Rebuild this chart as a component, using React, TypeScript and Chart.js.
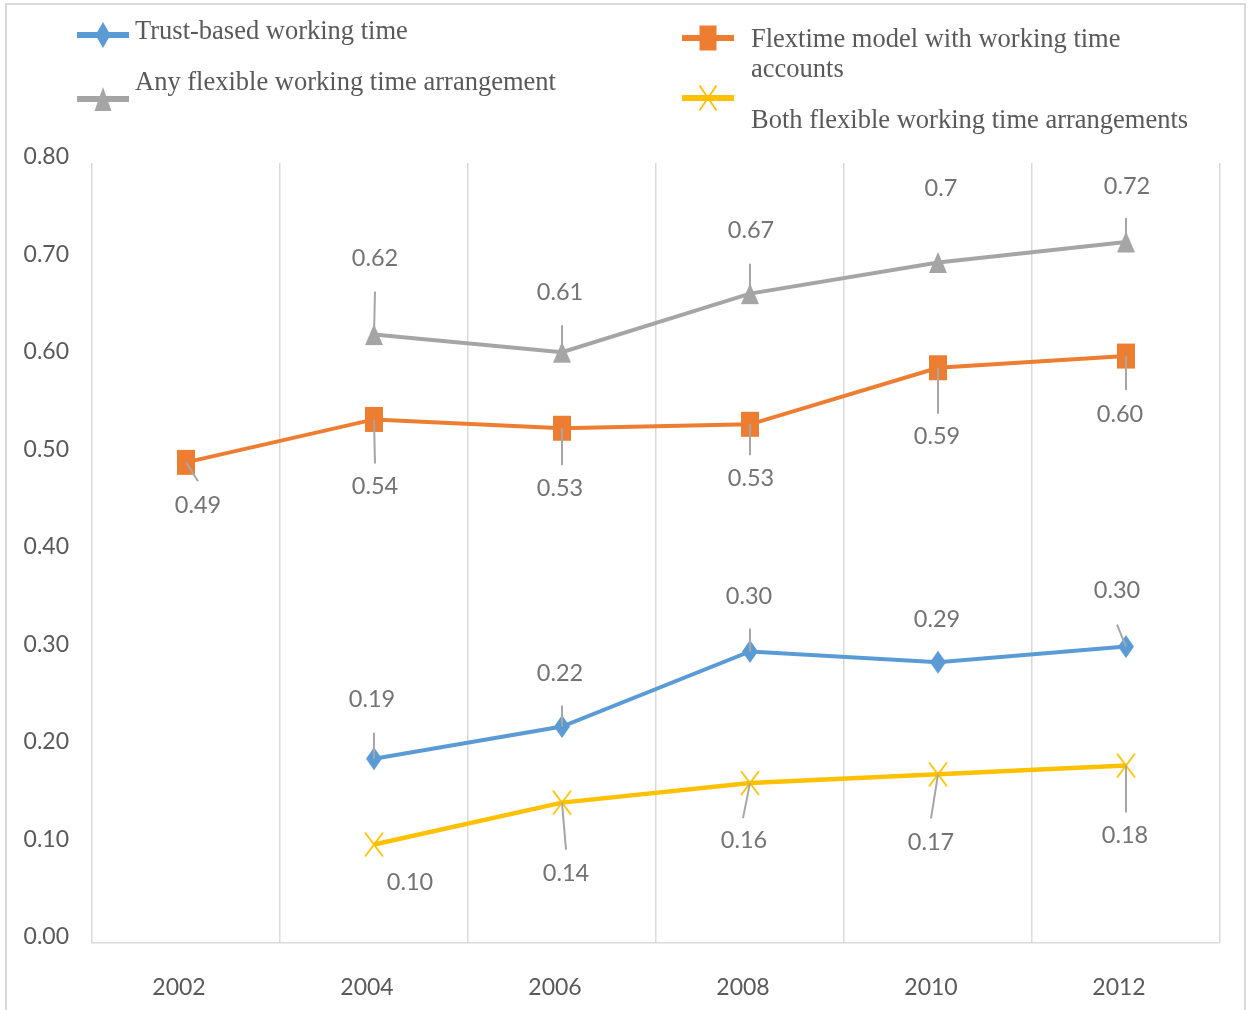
import React, { useEffect, useRef } from "react";
import { Chart, registerables } from "chart.js";

Chart.register(...registerables);

// ---- data ----
const years = ["2002", "2004", "2006", "2008", "2010", "2012"];
const trustBased = [null, 0.189, 0.222, 0.299, 0.288, 0.304];
const flextime = [0.493, 0.537, 0.528, 0.532, 0.59, 0.602];
const anyFlexible = [null, 0.624, 0.606, 0.666, 0.698, 0.719];
const bothFlexible = [null, 0.101, 0.144, 0.164, 0.173, 0.182];

const trustLabels = ["", "0.19", "0.22", "0.30", "0.29", "0.30"];
const flextimeLabels = ["0.49", "0.54", "0.53", "0.53", "0.59", "0.60"];
const anyLabels = ["", "0.62", "0.61", "0.67", "0.7", "0.72"];
const bothLabels = ["", "0.10", "0.14", "0.16", "0.17", "0.18"];

const yTickLabels = ["0.00", "0.10", "0.20", "0.30", "0.40", "0.50", "0.60", "0.70", "0.80"];

const seriesNames = [
  "Trust-based working time",
  "Flextime model with working time accounts",
  "Any flexible working time arrangement",
  "Both flexible working time arrangements",
];

// ---- label placement (style): [labelDx, labelDy, leaderDx, leaderDy] or [dx, dy] (no leader)
const trustPlace = [null, [-2, -59, 0, -26], [-2, -53, 0, -21], [-1, -55, 0, -23], [-1, -43], [-9, -56, -9, -22]];
const flexPlace = [[12, 43, 12, 19], [1, 67, 1, 44], [-2, 60, 0, 37], [1, 54, 0, 31], [-1, 69, 0, 46], [-6, 58, 0, 34]];
const anyPlace = [null, [1, -76, 1, -43], [-2, -60, 0, -27], [1, -63, 0, -30], [3, -74], [1, -56, 0, -24]];
const bothPlace = [null, [36, 38], [4, 71, 4, 47], [-6, 57, -7, 35], [-7, 68, -7, 44], [-1, 70, 0, 47]];

const BLUE = "#5B9BD5";
const ORANGE = "#ED7D31";
const GRAY = "#A5A5A5";
const YELLOW = "#FFC000";
const NUM_FONT = "Lato";

function makeMarker(kind: string, color: string, w: number, h: number): HTMLCanvasElement {
  const pad = 3;
  const c = document.createElement("canvas");
  c.width = w + pad * 2;
  c.height = h + pad * 2;
  const ctx = c.getContext("2d")!;
  ctx.translate(c.width / 2, c.height / 2);
  drawShape(ctx, kind, color, w, h);
  return c;
}

function drawShape(ctx: CanvasRenderingContext2D, kind: string, color: string, w: number, h: number) {
  ctx.fillStyle = color;
  ctx.strokeStyle = color;
  if (kind === "diamond") {
    ctx.beginPath();
    ctx.moveTo(0, -h / 2);
    ctx.lineTo(w / 2, 0);
    ctx.lineTo(0, h / 2);
    ctx.lineTo(-w / 2, 0);
    ctx.closePath();
    ctx.fill();
  } else if (kind === "rect") {
    ctx.fillRect(-w / 2, -h / 2, w, h);
  } else if (kind === "triangle") {
    ctx.beginPath();
    ctx.moveTo(0, -h / 2);
    ctx.lineTo(w / 2, h / 2);
    ctx.lineTo(-w / 2, h / 2);
    ctx.closePath();
    ctx.fill();
  } else if (kind === "cross") {
    ctx.lineWidth = 1.8;
    ctx.beginPath();
    ctx.moveTo(-w / 2, -h / 2);
    ctx.lineTo(w / 2, h / 2);
    ctx.moveTo(w / 2, -h / 2);
    ctx.lineTo(-w / 2, h / 2);
    ctx.stroke();
  }
}

const frameAndLegend = {
  id: "frameAndLegend",
  beforeDraw(chart: any) {
    const ctx = chart.ctx as CanvasRenderingContext2D;
    ctx.save();
    ctx.fillStyle = "#ffffff";
    ctx.fillRect(0, 0, chart.width, chart.height);
    ctx.strokeStyle = "#d9d9d9";
    ctx.lineWidth = 2;
    ctx.beginPath();
    ctx.moveTo(6, chart.height);
    ctx.lineTo(6, 4);
    ctx.lineTo(1245, 4);
    ctx.lineTo(1245, chart.height);
    ctx.stroke();

    // legend
    const items = [
      { color: BLUE, kind: "diamond", cx: 103, cy: 35, mw: 15, mh: 26, tx: 135, lines: [[seriesNames[0], 39]] },
      { color: GRAY, kind: "triangle", cx: 103, cy: 99, mw: 17, mh: 24, tx: 135, lines: [[seriesNames[2], 90]] },
      { color: ORANGE, kind: "rect", cx: 708, cy: 38, mw: 17, mh: 25, tx: 751, lines: [["Flextime model with working time", 47], ["accounts", 77]] },
      { color: YELLOW, kind: "cross", cx: 708, cy: 98, mw: 17, mh: 25, tx: 751, lines: [[seriesNames[3], 128]] },
    ];
    for (const it of items) {
      ctx.save();
      ctx.strokeStyle = it.color;
      ctx.lineWidth = 6;
      ctx.beginPath();
      ctx.moveTo(it.cx - 26, it.cy);
      ctx.lineTo(it.cx + 26, it.cy);
      ctx.stroke();
      ctx.translate(it.cx, it.cy);
      drawShape(ctx, it.kind, it.color, it.mw, it.mh);
      ctx.restore();
      ctx.fillStyle = "#595959";
      ctx.font = "26.5px 'Liberation Serif', 'Times New Roman', serif";
      ctx.textAlign = "left";
      ctx.textBaseline = "alphabetic";
      for (const [t, y] of it.lines as [string, number][]) {
        ctx.fillText(t, it.tx, y);
      }
    }
    ctx.restore();
  },
};

const dataLabels = {
  id: "dataLabels",
  afterDatasetsDraw(chart: any) {
    const ctx = chart.ctx as CanvasRenderingContext2D;
    const labelSets = [trustLabels, flextimeLabels, anyLabels, bothLabels];
    const placeSets: any[] = [trustPlace, flexPlace, anyPlace, bothPlace];
    ctx.save();
    chart.data.datasets.forEach((ds: any, i: number) => {
      const meta = chart.getDatasetMeta(i);
      meta.data.forEach((el: any, j: number) => {
        const v = ds.data[j];
        const place = placeSets[i][j];
        if (v == null || !place) return;
        const px = el.x;
        const py = el.y;
        if (place.length === 4) {
          ctx.strokeStyle = "#a6a6a6";
          ctx.lineWidth = 2;
          ctx.beginPath();
          ctx.moveTo(px, py);
          ctx.lineTo(px + place[2], py + place[3]);
          ctx.stroke();
        }
        ctx.fillStyle = "#737373";
        ctx.font = `23.5px ${NUM_FONT}`;
        ctx.textAlign = "center";
        ctx.textBaseline = "middle";
        ctx.fillText(labelSets[i][j], px + place[0], py + place[1]);
      });
    });
    ctx.restore();
  },
};

export default function App() {
  const canvasRef = useRef<HTMLCanvasElement | null>(null);

  useEffect(() => {
    const canvas = canvasRef.current;
    if (!canvas) return;
    const mBlue = makeMarker("diamond", BLUE, 16, 23);
    const mOrange = makeMarker("rect", ORANGE, 18, 25);
    const mGray = makeMarker("triangle", GRAY, 18, 21);
    const mYellow = makeMarker("cross", YELLOW, 18, 24);

    const common = { borderWidth: 4, spanGaps: false, tension: 0, pointRadius: 10, pointHoverRadius: 10 };

    const chart = new Chart(canvas, {
      type: "line",
      data: {
        labels: years,
        datasets: [
          { label: seriesNames[0], data: trustBased, borderColor: BLUE, backgroundColor: BLUE, pointStyle: mBlue, ...common },
          { label: seriesNames[1], data: flextime, borderColor: ORANGE, backgroundColor: ORANGE, pointStyle: mOrange, ...common },
          { label: seriesNames[2], data: anyFlexible, borderColor: GRAY, backgroundColor: GRAY, pointStyle: mGray, ...common },
          { label: seriesNames[3], data: bothFlexible, borderColor: YELLOW, backgroundColor: YELLOW, pointStyle: mYellow, ...common, borderWidth: 4.5 },
        ] as any,
      },
      options: {
        animation: false,
        responsive: false,
        devicePixelRatio: 1,
        layout: { padding: { top: 163, right: 28, left: 0, bottom: 0 } },
        plugins: { legend: { display: false }, tooltip: { enabled: false }, title: { display: false } },
        scales: {
          x: {
            type: "category",
            offset: true,
            grid: { offset: true, color: "#d9d9d9", lineWidth: 1.5, drawTicks: false },
            border: { color: "#d9d9d9", width: 1.5 },
            ticks: { font: { family: NUM_FONT, size: 23 }, color: "#595959", padding: 31, labelOffset: -7 },
            afterFit: (s: any) => { s.height = 67; },
          },
          y: {
            min: 0,
            max: 0.8,
            grid: { display: false, drawTicks: false },
            border: { display: false },
            ticks: {
              stepSize: 0.1,
              font: { family: NUM_FONT, size: 23 },
              color: "#595959",
              padding: 23,
              labelOffset: -6,
              callback: (_v: any, idx: number) => yTickLabels[idx],
            },
            afterFit: (s: any) => { s.width = 92; },
          },
        },
      } as any,
      plugins: [frameAndLegend, dataLabels],
    });
    return () => chart.destroy();
  }, []);

  return (
    <div style={{ position: "absolute", left: 0, top: 0, width: 1248, height: 1010, background: "#fff" }}>
      <canvas ref={canvasRef} width={1248} height={1010} />
    </div>
  );
}
